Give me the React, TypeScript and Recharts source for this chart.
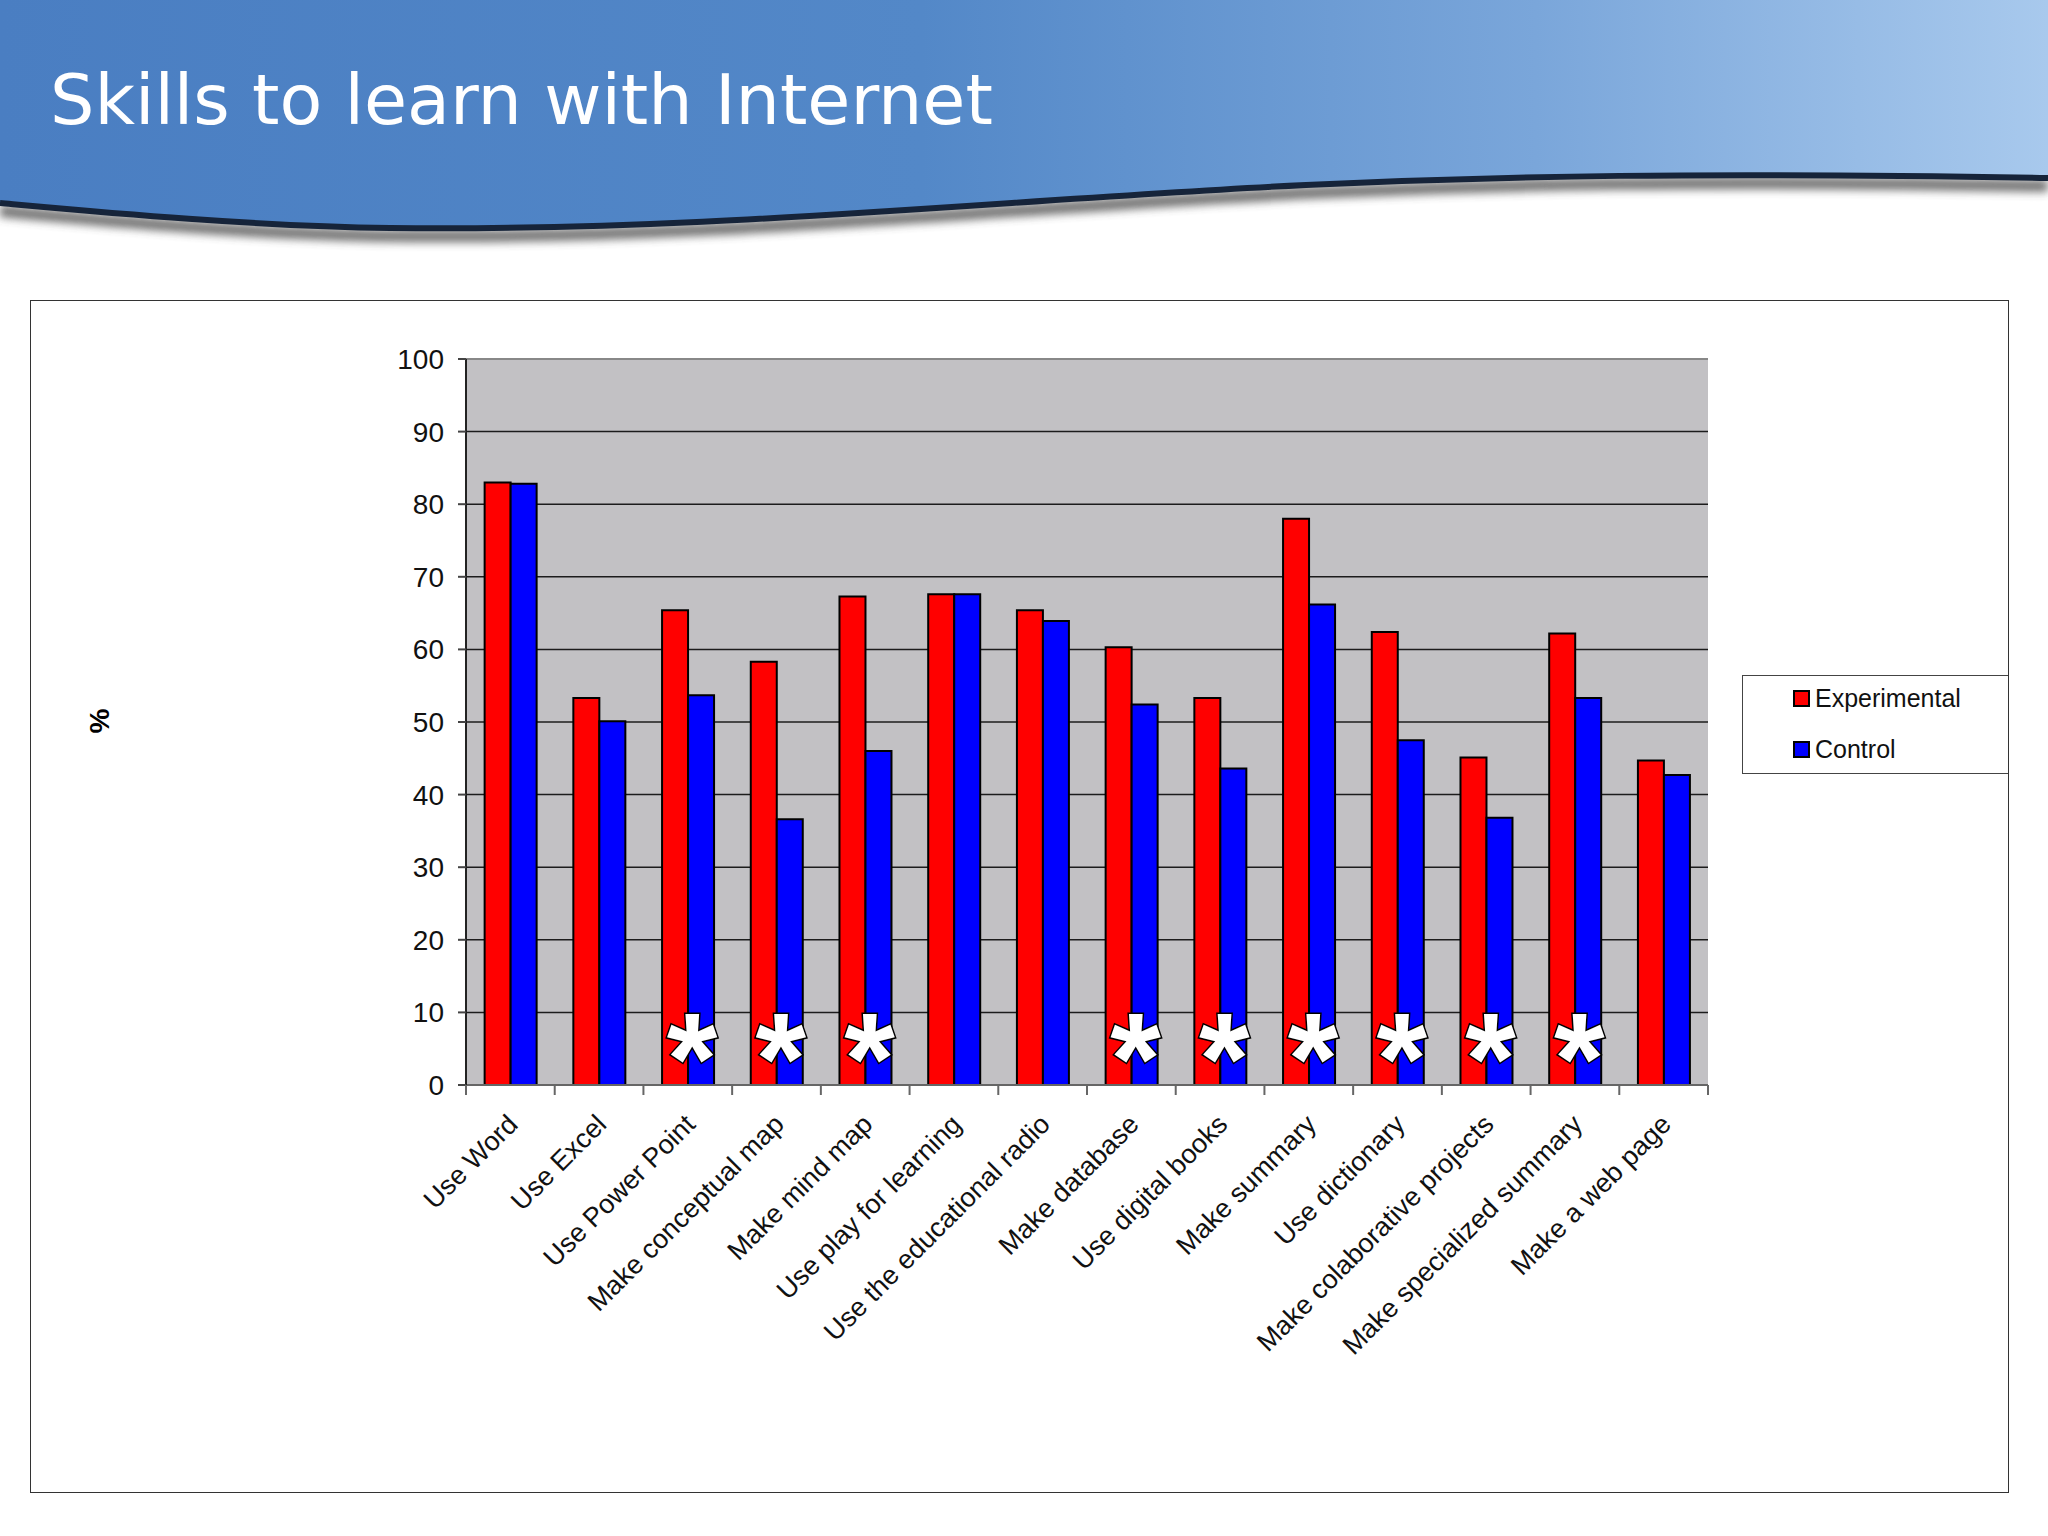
import { Bar, BarChart, CartesianGrid, LabelList, Legend, ReferenceLine, XAxis, YAxis } from "recharts";

const skills = [
  "Use Word",
  "Use Excel",
  "Use Power Point",
  "Make conceptual map",
  "Make mind map",
  "Use play for learning",
  "Use the educational radio",
  "Make database",
  "Use digital books",
  "Make summary",
  "Use dictionary",
  "Make colaborative projects",
  "Make specialized summary",
  "Make a web page",
];
const experimental = [83.0, 53.3, 65.4, 58.3, 67.3, 67.6, 65.4, 60.3, 53.3, 78.0, 62.4, 45.1, 62.2, 44.7];
const control = [82.8, 50.1, 53.7, 36.6, 46.0, 67.6, 63.9, 52.4, 43.6, 66.2, 47.5, 36.8, 53.3, 42.7];
// starred categories
const significant = [false, false, true, true, true, false, false, true, true, true, true, true, true, false];
const yTicks = [0, 10, 20, 30, 40, 50, 60, 70, 80, 90, 100];

const data = skills.map((skill, i) => ({
  skill,
  experimental: experimental[i],
  control: control[i],
}));

const FONT = "'Liberation Sans', Arial, sans-serif";
const CHART_W = 1979;
const CHART_H = 1193;
const LEGEND_W = 266;
// the legend takes its width from the right side of the plot
const MARGIN = { top: 59, right: 301 - LEGEND_W, bottom: 108, left: 356 };
const Y_AXIS_W = 80;
const PLOT_W = CHART_W - MARGIN.left - Y_AXIS_W - MARGIN.right - LEGEND_W;
const BAND = PLOT_W / skills.length;

function SkillTick(props: any) {
  const { x, y, payload, index } = props;
  const left = x - BAND / 2;
  return (
    <g>
      <line x1={left} x2={left} y1={y - 10} y2={y} stroke="#666" strokeWidth={2} />
      {index === skills.length - 1 && (
        <line x1={x + BAND / 2} x2={x + BAND / 2} y1={y - 10} y2={y} stroke="#666" strokeWidth={2} />
      )}
      <text
        transform={`translate(${x + 9},${y + 31}) rotate(-45)`}
        textAnchor="end"
        fontSize={27}
        fontFamily={FONT}
        fill="#111"
      >
        {payload.value}
      </text>
    </g>
  );
}

function Star(props: any) {
  const { x, y, height, index } = props;
  if (!significant[index]) return null;
  return (
    <text
      x={x + 4}
      y={y + height + 19}
      textAnchor="middle"
      fontSize={130}
      fontWeight="bold"
      fontFamily={FONT}
      fill="#fff"
      stroke="#000"
      strokeWidth={3}
      paintOrder="stroke"
    >
      *
    </text>
  );
}

function LegendBox() {
  const items = [
    { label: "Experimental", color: "#ff0000" },
    { label: "Control", color: "#0000ff" },
  ];
  return (
    <div
      style={{
        position: "relative",
        width: LEGEND_W,
        height: 99,
        border: "1.5px solid #444",
        borderRight: "none",
        background: "#fff",
        boxSizing: "border-box",
        fontFamily: FONT,
        fontSize: 25,
        color: "#111",
      }}
    >
      {items.map((it, i) => (
        <div
          key={it.label}
          style={{
            position: "absolute",
            left: 50,
            top: 5 + i * 51,
            display: "flex",
            alignItems: "center",
            height: 34,
          }}
        >
          <span
            style={{
              width: 13,
              height: 13,
              background: it.color,
              border: "2px solid #000",
              marginRight: 5,
            }}
          />
          {it.label}
        </div>
      ))}
    </div>
  );
}

const EDGE = "C100,212 250,226 390,228 C700,232 1000,200 1306,185 C1500,176 1700,172 2048,178";

function Header() {
  return (
    <svg width={2048} height={260} style={{ position: "absolute", left: 0, top: 0 }}>
      <defs>
        <linearGradient id="band" x1="0" y1="0" x2="1" y2="0">
          <stop offset="0%" stopColor="#4a7ec2" />
          <stop offset="45%" stopColor="#5388c8" />
          <stop offset="75%" stopColor="#7aa6da" />
          <stop offset="100%" stopColor="#a8c9ed" />
        </linearGradient>
        <filter id="blur" x="-5%" y="-50%" width="110%" height="200%">
          <feGaussianBlur stdDeviation="4" />
        </filter>
      </defs>
      <path
        d={`M0,203 ${EDGE}`}
        fill="none"
        stroke="#444"
        strokeWidth={12}
        transform="translate(0,8)"
        filter="url(#blur)"
        opacity={0.75}
      />
      <path d={`M0,0 H2048 V178 L2048,178 Z`} fill="none" />
      <path
        d="M0,0 H2048 V178 C1700,172 1500,176 1306,185 C1000,200 700,232 390,228 C250,226 100,212 0,203 Z"
        fill="url(#band)"
      />
      <path d={`M0,203 ${EDGE}`} fill="none" stroke="#16243a" strokeWidth={6} />
      <text x={50} y={124} fill="#fff" fontSize={70} fontFamily="'DejaVu Sans', Verdana, sans-serif">
        Skills to learn with Internet
      </text>
    </svg>
  );
}

export default function App() {
  return (
    <div style={{ position: "absolute", left: 0, top: 0, width: 2048, height: 1536, background: "#fff" }}>
      <Header />
      <div
        style={{
          position: "absolute",
          left: 30,
          top: 300,
          width: CHART_W,
          height: CHART_H,
          border: "1.5px solid #333",
          boxSizing: "border-box",
        }}
      />
      <div
        style={{
          position: "absolute",
          left: 88,
          top: 705,
          fontFamily: FONT,
          fontSize: 28,
          fontWeight: "bold",
          transform: "rotate(-90deg)",
        }}
      >
        %
      </div>
      <div style={{ position: "absolute", left: 30, top: 300 }}>
        <BarChart
          width={CHART_W}
          height={CHART_H}
          data={data}
          margin={MARGIN}
          barGap={0}
          barCategoryGap="21%"
        >
          <CartesianGrid fill="#c2c1c4" stroke="#1c1c1c" strokeWidth={1.5} vertical={false} />
          <XAxis
            dataKey="skill"
            interval={0}
            tickLine={false}
            tickSize={10}
            tickMargin={0}
            tick={<SkillTick />}
            height={300}
            axisLine={{ stroke: "#666", strokeWidth: 2 }}
          />
          <YAxis
            domain={[0, 100]}
            ticks={yTicks}
            width={Y_AXIS_W}
            tickSize={8}
            tickMargin={14}
            tickLine={{ stroke: "#444", strokeWidth: 2 }}
            axisLine={{ stroke: "#222", strokeWidth: 2 }}
            tick={{ fontSize: 28, fill: "#111", fontFamily: FONT }}
          />
          <YAxis yAxisId="right" orientation="right" width={0} tick={false} axisLine={{ stroke: "#888", strokeWidth: 2 }} />
          <ReferenceLine y={100} stroke="#888" strokeWidth={2} />
          <Legend
            layout="vertical"
            align="right"
            verticalAlign="top"
            content={<LegendBox />}
            wrapperStyle={{ left: 1712, top: 375, width: LEGEND_W }}
          />
          <Bar dataKey="experimental" name="Experimental" fill="#ff0000" stroke="#000" strokeWidth={2} isAnimationActive={false} />
          <Bar dataKey="control" name="Control" fill="#0000ff" stroke="#000" strokeWidth={2} isAnimationActive={false}>
            <LabelList dataKey="control" content={<Star />} />
          </Bar>
        </BarChart>
      </div>
    </div>
  );
}
